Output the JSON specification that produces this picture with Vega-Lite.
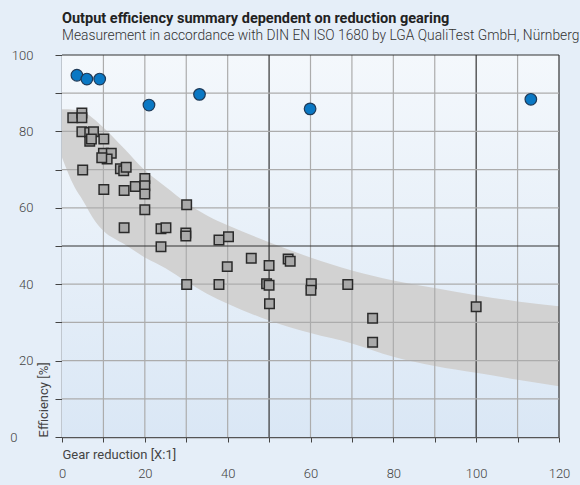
{
  "$schema": "https://vega.github.io/schema/vega-lite/v6.json",
  "autosize": "none",
  "width": 497,
  "height": 382,
  "padding": {"left": 62, "top": 55, "right": 21, "bottom": 48},
  "background": "#e5eef8",
  "config": {
    "view": {"stroke": null},
    "font": "Roboto",
    "axis": {"labelFont": "Roboto", "titleFont": "Roboto", "labelFontSize": 13, "titleFontSize": 13, "labelColor": "#444444", "titleColor": "#444444", "titleFontWeight": "normal", "labelFontWeight": 300, "domainColor": "#555555", "domainWidth": 1.5, "tickColor": "#444444", "tickWidth": 1, "grid": false},
    "axisX": {"values": [0, 10, 20, 30, 40, 50, 60, 70, 80, 90, 100, 110, 120], "labelExpr": "datum.value % 20 == 0 ? datum.label : ''", "tickSize": 5, "labelPadding": 25, "labelBaseline": "top", "titleX": 0, "titleY": 11, "titleAlign": "left", "titleBaseline": "top", "labelFlush": false},
    "axisY": {"values": [0, 10, 20, 30, 40, 50, 60, 70, 80, 90, 100], "labelExpr": "datum.value % 20 == 0 ? datum.label : ''", "tickSize": 7, "labelPadding": {"condition": {"test": "datum.value == 0", "value": 38}, "value": 22}, "labelAlign": "right", "labelBaseline": "middle", "titleX": -19, "titleY": 382, "titleAngle": 270, "titleAlign": "left", "titleBaseline": "middle", "labelFlush": false}
  },
  "title": {
    "text": "Output efficiency summary dependent on reduction gearing",
    "subtitle": "Measurement in accordance with DIN EN ISO 1680 by LGA QualiTest GmbH, Nürnberg",
    "anchor": "start",
    "frame": "group",
    "font": "Roboto",
    "fontSize": 14.5,
    "fontWeight": "bold",
    "color": "#222222",
    "subtitleFont": "Roboto",
    "subtitleFontSize": 13.8,
    "subtitleFontWeight": 300,
    "subtitleColor": "#333333",
    "subtitlePadding": 3,
    "offset": 5
  },
  "datasets": {
    "band": [
      {"x": 0, "lower": 73.2, "upper": 85.8},
      {"x": 3, "lower": 65.5, "upper": 85.7},
      {"x": 5, "lower": 62, "upper": 85.3},
      {"x": 8, "lower": 56.5, "upper": 83},
      {"x": 10, "lower": 54, "upper": 81},
      {"x": 15, "lower": 50.5, "upper": 75.5},
      {"x": 20, "lower": 47, "upper": 69.8},
      {"x": 25, "lower": 44.2, "upper": 65.5},
      {"x": 30, "lower": 40.7, "upper": 61.3},
      {"x": 35, "lower": 37.5, "upper": 58},
      {"x": 40, "lower": 34.9, "upper": 55.4},
      {"x": 50, "lower": 30.5, "upper": 51},
      {"x": 60, "lower": 27.2, "upper": 47},
      {"x": 70, "lower": 24.5, "upper": 43.6},
      {"x": 80, "lower": 21, "upper": 41},
      {"x": 90, "lower": 18.6, "upper": 39},
      {"x": 100, "lower": 16.8, "upper": 37.1},
      {"x": 110, "lower": 15, "upper": 35.5},
      {"x": 120, "lower": 13.3, "upper": 34.2}
    ],
    "xgrid": [{"v": 10}, {"v": 20}, {"v": 30}, {"v": 40}, {"v": 50}, {"v": 60}, {"v": 70}, {"v": 80}, {"v": 90}, {"v": 100}, {"v": 110}, {"v": 120}],
    "ygrid": [{"v": 10}, {"v": 20}, {"v": 30}, {"v": 40}, {"v": 50}, {"v": 60}, {"v": 70}, {"v": 80}, {"v": 90}, {"v": 100}],
    "circles": [
      {"x": 3.6, "y": 94.7}, {"x": 6.0, "y": 93.7}, {"x": 9.1, "y": 93.7}, {"x": 21.0, "y": 86.9},
      {"x": 33.2, "y": 89.7}, {"x": 59.9, "y": 85.9}, {"x": 113.2, "y": 88.4}
    ],
    "squares": [
      {"x": 2.6, "y": 83.6}, {"x": 4.8, "y": 84.8}, {"x": 4.8, "y": 83.6}, {"x": 4.8, "y": 79.9},
      {"x": 6.7, "y": 79.7}, {"x": 7.6, "y": 79.9}, {"x": 6.7, "y": 77.4}, {"x": 7.1, "y": 78.0},
      {"x": 10.1, "y": 78.0}, {"x": 5.0, "y": 69.9}, {"x": 10.0, "y": 74.3}, {"x": 11.9, "y": 74.3},
      {"x": 10.9, "y": 72.8}, {"x": 9.6, "y": 73.1}, {"x": 14.1, "y": 70.2}, {"x": 14.9, "y": 69.7},
      {"x": 15.5, "y": 70.6}, {"x": 10.1, "y": 64.8}, {"x": 15.0, "y": 64.5}, {"x": 17.7, "y": 65.6},
      {"x": 20.0, "y": 67.7}, {"x": 20.0, "y": 65.8}, {"x": 20.0, "y": 63.6}, {"x": 20.0, "y": 59.5},
      {"x": 30.1, "y": 60.8}, {"x": 15.0, "y": 54.8}, {"x": 23.9, "y": 54.5}, {"x": 25.1, "y": 54.8},
      {"x": 29.9, "y": 53.4}, {"x": 29.9, "y": 52.6}, {"x": 23.9, "y": 49.8}, {"x": 37.9, "y": 51.6},
      {"x": 40.2, "y": 52.4}, {"x": 30.1, "y": 39.9}, {"x": 37.9, "y": 39.9}, {"x": 39.9, "y": 44.6},
      {"x": 45.7, "y": 46.8}, {"x": 50.0, "y": 44.9}, {"x": 49.4, "y": 40.1}, {"x": 50.0, "y": 39.7},
      {"x": 50.1, "y": 34.9}, {"x": 54.6, "y": 46.6}, {"x": 55.1, "y": 46.0}, {"x": 60.2, "y": 40.1},
      {"x": 60.1, "y": 38.4}, {"x": 69.0, "y": 39.9}, {"x": 75.0, "y": 31.1}, {"x": 75.0, "y": 24.8},
      {"x": 100.0, "y": 34.1}
    ]
  },
  "layer": [
    {
      "data": {"values": [{}]},
      "mark": {"type": "rect", "color": {"gradient": "linear", "x1": 0, "y1": 0, "x2": 0, "y2": 1, "stops": [{"offset": 0, "color": "#f4f8fc"}, {"offset": 1, "color": "#dae7f5"}]}},
      "encoding": {
        "x": {"datum": 0, "type": "quantitative", "title": "Gear reduction [X:1]", "scale": {"domain": [0, 120], "nice": false}},
        "x2": {"datum": 120},
        "y": {"datum": 0, "type": "quantitative", "title": "Efficiency [%]", "scale": {"domain": [0, 100], "nice": false}},
        "y2": {"datum": 100}
      }
    },
    {
      "data": {"name": "band"},
      "mark": {"type": "area", "color": "#d2d2d2", "opacity": 1, "interpolate": "monotone"},
      "encoding": {
        "x": {"field": "x", "type": "quantitative", "title": "Gear reduction [X:1]", "scale": {"domain": [0, 120], "nice": false}},
        "y": {"field": "upper", "type": "quantitative", "title": "Efficiency [%]", "scale": {"domain": [0, 100], "nice": false}},
        "y2": {"field": "lower"}
      }
    },
    {
      "data": {"name": "xgrid"},
      "mark": {"type": "rule", "strokeWidth": 1.2},
      "encoding": {
        "x": {"field": "v", "type": "quantitative", "title": "Gear reduction [X:1]", "scale": {"domain": [0, 120], "nice": false}},
        "color": {"condition": {"test": "datum.v == 50 || datum.v == 100 || datum.v == 120", "value": "#333333"}, "value": "#acacac"}
      }
    },
    {
      "data": {"name": "ygrid"},
      "mark": {"type": "rule", "strokeWidth": 1.2},
      "encoding": {
        "y": {"field": "v", "type": "quantitative", "title": "Efficiency [%]", "scale": {"domain": [0, 100], "nice": false}},
        "color": {"condition": {"test": "datum.v == 50 || datum.v == 100", "value": "#333333"}, "value": "#acacac"}
      }
    },
    {
      "data": {"name": "squares"},
      "mark": {"type": "point", "shape": "square", "filled": true, "size": 90, "color": "#a9a9a9", "stroke": "#2a2a2a", "strokeWidth": 1.5, "opacity": 1},
      "encoding": {
        "x": {"field": "x", "type": "quantitative", "title": "Gear reduction [X:1]", "scale": {"domain": [0, 120], "nice": false}},
        "y": {"field": "y", "type": "quantitative", "title": "Efficiency [%]", "scale": {"domain": [0, 100], "nice": false}}
      }
    },
    {
      "data": {"name": "circles"},
      "mark": {"type": "point", "shape": "circle", "filled": true, "size": 135, "color": "#0a78c4", "stroke": "#1e3a58", "strokeWidth": 1.2, "opacity": 1},
      "encoding": {
        "x": {"field": "x", "type": "quantitative", "title": "Gear reduction [X:1]", "scale": {"domain": [0, 120], "nice": false}},
        "y": {"field": "y", "type": "quantitative", "title": "Efficiency [%]", "scale": {"domain": [0, 100], "nice": false}}
      }
    }
  ]
}
